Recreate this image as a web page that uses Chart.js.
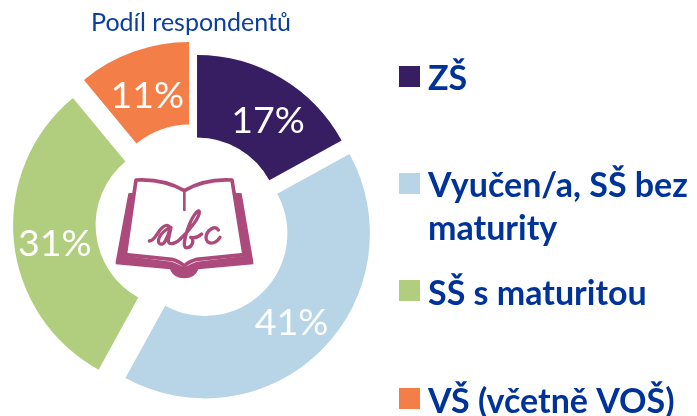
<!DOCTYPE html>
<html lang="cs"><head><meta charset="utf-8">
<style>html,body{margin:0;padding:0;background:#fff}#w{position:absolute;left:0;top:0;width:697px;height:416px}</style>
<script src="https://cdn.jsdelivr.net/npm/chart.js@4"></script>
</head><body><div id="w"><canvas id="c" width="697" height="416"></canvas></div>
<script>
const title = 'Podíl respondentů';
const categories = ['ZŠ', ['Vyučen/a, SŠ bez', 'maturity'], 'SŠ s maturitou', 'VŠ (včetně VOŠ)'];
const shares = [17, 41, 31, 11];
const colours = ['#371E62', '#B7D5E6', '#B1CE7E', '#F47E48'];
const explode = [4, 14, 17, 17.5];
const labelNudge = [[8, 7], [-1, 2], [0, 7], [0, 5]];
const legendTop = [66, 173, 280, 388];
const legendBaselines = [[90], [197, 240], [305], [413]];
const TEXT = '#003399', BOOK = '#AD4A7C';

class ExplodedArc extends Chart.ArcElement {
  static id = 'explodedArc';
  shift() {
    const d = explode[this.$context.dataIndex] || 0;
    const a = (this.startAngle + this.endAngle) / 2;
    return [Math.cos(a) * d, Math.sin(a) * d];
  }
  draw(ctx) {
    const [dx, dy] = this.shift();
    ctx.save(); ctx.translate(dx, dy); super.draw(ctx); ctx.restore();
  }
}
Chart.register(ExplodedArc);
Chart.defaults.datasets.doughnut.dataElementType = 'explodedArc';

const decor = {
  id: 'decor',
  afterDatasetsDraw(chart) {
    const ctx = chart.ctx;
    ctx.save();
    // slice labels
    ctx.textAlign = 'center'; ctx.textBaseline = 'middle';
    ctx.font = '37.5px Lato'; ctx.fillStyle = '#fff';
    chart.getDatasetMeta(0).data.forEach((arc, i) => {
      const p = arc.getCenterPoint(), s = arc.shift();
      ctx.fillText(shares[i] + '%', p.x + s[0] + labelNudge[i][0], p.y + s[1] + labelNudge[i][1]);
    });
    // title
    ctx.font = '25px Lato'; ctx.fillStyle = '#0B3F9E';
    ctx.textBaseline = 'alphabetic';
    ctx.fillText(title, 191, 31);
    // legend
    ctx.textAlign = 'left'; ctx.font = 'bold 34px Lato';
    categories.forEach((c, i) => {
      ctx.fillStyle = colours[i];
      ctx.fillRect(399, legendTop[i], 21, 21);
      ctx.fillStyle = TEXT;
      [].concat(c).forEach((line, j) => ctx.fillText(line, 428, legendBaselines[i][j]));
    });
    // book icon (drawn in 3x crop space)
    ctx.translate(100, 150); ctx.scale(1 / 3, 1 / 3);
    ctx.fillStyle = BOOK; ctx.strokeStyle = BOOK; ctx.lineJoin = 'round'; ctx.lineCap = 'round';
    ctx.fill(new Path2D('M85 130 L104 128 L78 318 L215 335 Q240 345 253 352 Q266 345 290 335 L432 318 L405 128 L425 130 L460 335 L460 343 L295 358 Q285 385 253 385 Q220 385 210 358 L47 343 L47 335 Z'));
    ctx.lineWidth = 11;
    ctx.stroke(new Path2D('M108 90 Q190 85 253 122 Q315 85 396 90 L432 314 L290 328 Q265 335 253 348 Q240 335 215 328 L76 314 Z'));
    ctx.lineWidth = 8;
    ctx.stroke(new Path2D('M253 122 L253 180'));
    ctx.lineWidth = 10;
    ctx.stroke(new Path2D('M148 273 C170 272 175 228 200 226 C218 225 205 255 196 272 C188 288 172 285 176 268 C182 245 210 232 213 232 L205 270 C203 285 222 285 240 268 C270 240 300 200 298 185 C295 175 275 200 262 240 C250 280 250 295 262 293 C280 290 283 265 272 262 C285 265 295 262 305 252'));
    ctx.stroke(new Path2D('M355 240 C345 225 320 240 318 262 C318 285 345 285 360 262'));
    ctx.restore();
  }
};

new Chart(document.getElementById('c'), {
  type: 'doughnut',
  data: { labels: categories, datasets: [{ data: shares, backgroundColor: colours, borderWidth: 0 }] },
  options: {
    responsive: false, animation: false, cutout: '50%',
    layout: { padding: { left: 30, right: 337, top: 58.5, bottom: 27.5 } },
    plugins: { legend: { display: false }, tooltip: { enabled: false } }
  },
  plugins: [decor]
});
</script></body></html>
